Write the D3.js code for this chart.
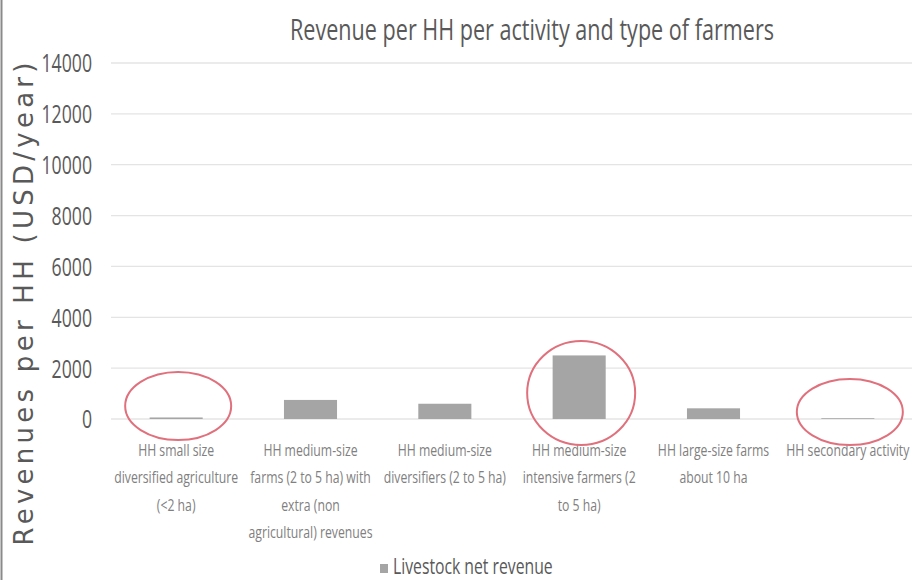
<!DOCTYPE html>
<html>
<head>
<meta charset="utf-8">
<script src="https://cdn.jsdelivr.net/npm/d3@7"></script>
<style>
  html, body { margin: 0; padding: 0; background: #fff; }
  svg { display: block; }
</style>
</head>
<body>
<div id="chart"></div>
<script>
// Farmer types (category axis), one label line per array entry
const categories = [
  "small", "medium-extra", "medium-div", "medium-int", "large", "secondary"
];
const categoryLines = [
  ["HH small size", "diversified agriculture", "(<2 ha)"],
  ["HH medium-size", "farms (2 to 5 ha) with", "extra (non", "agricultural) revenues"],
  ["HH medium-size", "diversifiers (2 to 5 ha)"],
  ["HH medium-size", "intensive farmers (2", "to 5 ha)"],
  ["HH large-size farms", "about 10 ha"],
  ["HH secondary activity"]
];
// Livestock net revenue per household (USD/year)
const livestockRevenue = [60, 750, 600, 2500, 420, 30];
const yTicks = [0, 2000, 4000, 6000, 8000, 10000, 12000, 14000];
const seriesName = "Livestock net revenue";
const chartTitle = "Revenue per HH per activity and type of farmers";
const yTitle = "Revenues per HH (USD/year)";
// Categories circled in red
const highlighted = ["small", "medium-int", "secondary"];

const W = 912, H = 580;
const SX = 0.72;               // horizontal squeeze for the narrow text face
const textColor = "#595959";
const labelColor = "#808080";
const barColor = "#a5a5a5";

const svg = d3.select("#chart").append("svg")
  .attr("width", W).attr("height", H);

svg.append("rect").attr("width", W).attr("height", H).attr("fill", "#fff");
svg.append("line").attr("x1", 1.5).attr("x2", 1.5).attr("y1", 0).attr("y2", H)
  .attr("stroke", "#8a8a8a").attr("stroke-width", 2);

const x = d3.scaleBand().domain(categories).range([109, 915])
  .paddingInner(0.605).paddingOuter(0.3025);
const y = d3.scaleLinear().domain([0, 14000]).range([419, 63]);

// Gridlines
svg.append("g").selectAll("line").data(yTicks).join("line")
  .attr("x1", 111).attr("x2", W)
  .attr("y1", d => y(d)).attr("y2", d => y(d))
  .attr("stroke", "#e4e4e4").attr("stroke-width", 1.3);

// Y tick labels
svg.append("g").selectAll("text").data(yTicks).join("text")
  .attr("transform", d => `translate(92,${y(d)}) scale(0.68,1)`)
  .attr("text-anchor", "end").attr("dy", "0.36em")
  .attr("font-family", "Open Sans, sans-serif").attr("font-size", 26)
  .attr("fill", textColor)
  .text(d => d);

// Bars
svg.append("g").selectAll("rect").data(categories).join("rect")
  .attr("x", d => x(d))
  .attr("width", x.bandwidth())
  .attr("y", (d, i) => y(livestockRevenue[i]))
  .attr("height", (d, i) => y(0) - y(livestockRevenue[i]))
  .attr("fill", barColor);

// Category labels
const lab = svg.append("g").selectAll("g").data(categories).join("g")
  .attr("transform", d => `translate(${x(d) + x.bandwidth() / 2},0) scale(${SX},1)`);
lab.selectAll("text").data((d, i) => categoryLines[i]).join("text")
  .attr("x", 0).attr("y", (d, j) => 456 + j * 27.5)
  .attr("text-anchor", "middle")
  .attr("font-family", "Open Sans, sans-serif").attr("font-size", 17)
  .attr("fill", labelColor)
  .text(d => d);

// Red ellipses around the highlighted categories
const ellipseSize = { "small": [53, 34, 13], "medium-int": [54, 52, 26], "secondary": [53, 33, 7] };
svg.append("g").selectAll("ellipse").data(highlighted).join("ellipse")
  .attr("cx", d => x(d) + x.bandwidth() / 2 + 2)
  .attr("cy", d => y(0) - ellipseSize[d][2])
  .attr("rx", d => ellipseSize[d][0])
  .attr("ry", d => ellipseSize[d][1])
  .attr("fill", "none").attr("stroke", "#e0707c").attr("stroke-width", 2);

// Title
svg.append("text")
  .attr("transform", `translate(532,40) scale(${SX},1)`)
  .attr("text-anchor", "middle")
  .attr("font-family", "Open Sans, sans-serif").attr("font-size", 30)
  .attr("fill", textColor)
  .text(chartTitle);

// Y axis title
svg.append("text")
  .attr("transform", "translate(33,304) rotate(-90)")
  .attr("text-anchor", "middle")
  .attr("font-family", "DejaVu Sans, sans-serif").attr("font-size", 26)
  .attr("textLength", 483).attr("lengthAdjust", "spacing")
  .attr("fill", textColor)
  .text(yTitle);

// Legend
const leg = svg.append("g");
leg.append("rect").attr("x", 380).attr("y", 564).attr("width", 8).attr("height", 9)
  .attr("fill", barColor);
leg.append("text")
  .attr("transform", `translate(393,574) scale(0.75,1)`)
  .attr("font-family", "Open Sans, sans-serif").attr("font-size", 21)
  .attr("fill", textColor)
  .text(seriesName);
</script>
</body>
</html>
